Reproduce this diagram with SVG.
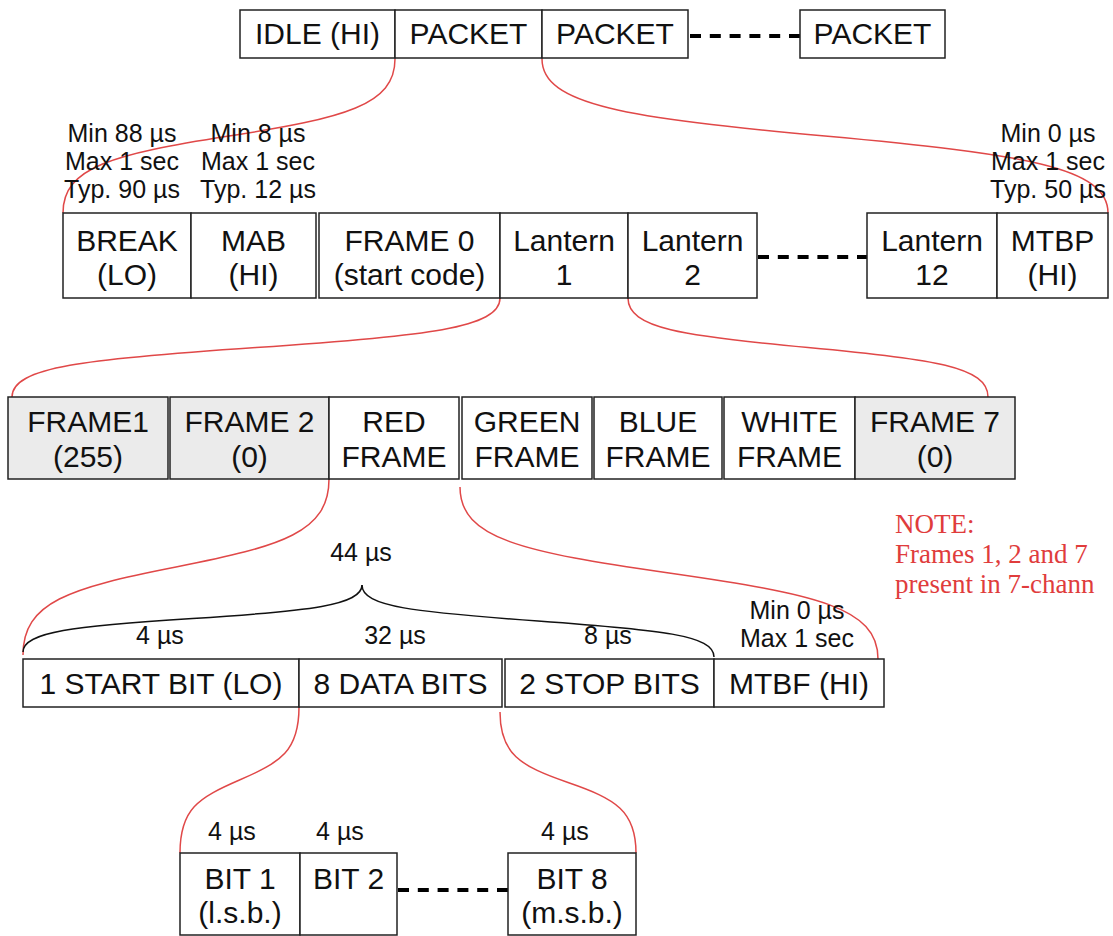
<svg xmlns="http://www.w3.org/2000/svg" width="1113" height="936" viewBox="0 0 1113 936">
<style>
.b{fill:#fff;stroke:#222;stroke-width:1.5}
.g{fill:#ebebeb;stroke:#222;stroke-width:1.5}
.t{font-family:"Liberation Sans",Arial,sans-serif;font-size:30px;fill:#111;text-anchor:middle}
.l{font-family:"Liberation Sans",Arial,sans-serif;font-size:25px;fill:#111;text-anchor:middle}
.n{font-family:"Liberation Serif","Times New Roman",serif;font-size:27px;fill:#e03c3c}
.r{fill:none;stroke:#e04848;stroke-width:1.5}
.k{fill:none;stroke:#111;stroke-width:1.5}
.d{stroke:#000;stroke-width:4;stroke-dasharray:11 8.8}
</style>
<g id="connectors">
<path class="r" d="M395,59 C395,105 345,118 229,136 S63,167 63,213"/>
<path class="r" d="M542,59 C542,105 627,118 825,136 S1108,167 1108,213"/>
<path class="r" d="M500,298 C500,328 427,336 256,347.5 S12,367 12,397"/>
<path class="r" d="M628,298 C628,328 682,336 808,347.5 S988,367 988,397"/>
<path class="r" d="M329,479 C329,532 283,546 176,567 S23,602 23,655"/>
<path class="r" d="M460,487 C460,539 523,552 669,573 S878,607 878,659"/>
<path class="r" d="M299,707 C299,751 281,762 239.5,780 S180,809 180,853"/>
<path class="r" d="M500,712 C500,754 520,766 568,782.5 S636,811 636,853"/>
<path class="k" d="M23,652 C23,632 74,626 192.5,618.5 S362,605 362,585"/>
<path class="k" d="M362,585 C362,607 415,612 538,621 S714,635 714,657"/>
<line class="d" x1="690" y1="36" x2="800" y2="36"/>
<line class="d" x1="758" y1="257" x2="867" y2="257"/>
<line class="d" x1="398" y1="890" x2="508" y2="890"/>
</g>
<g id="row1">
<g id="idle"><rect class="b" x="240" y="10" width="155" height="48"/><text class="t" x="317.5" y="44">IDLE (HI)</text></g>
<g id="packet1"><rect class="b" x="395" y="10" width="147" height="48"/><text class="t" x="468.5" y="44">PACKET</text></g>
<g id="packet2"><rect class="b" x="542" y="10" width="146" height="48"/><text class="t" x="615" y="44">PACKET</text></g>
<g id="packetN"><rect class="b" x="800" y="10" width="145" height="48"/><text class="t" x="872.5" y="44">PACKET</text></g>
</g>
<g id="row2">
<g id="break"><rect class="b" x="63" y="213" width="128" height="85"/><text class="t" x="127" y="251">BREAK</text><text class="t" x="127" y="285">(LO)</text></g>
<g id="mab"><rect class="b" x="191" y="213" width="125" height="85"/><text class="t" x="253.5" y="251">MAB</text><text class="t" x="253.5" y="285">(HI)</text></g>
<g id="frame0"><rect class="b" x="319" y="213" width="181" height="85"/><text class="t" x="409.5" y="251">FRAME 0</text><text class="t" x="409.5" y="285">(start code)</text></g>
<g id="lantern1"><rect class="b" x="500" y="213" width="128" height="85"/><text class="t" x="564" y="251">Lantern</text><text class="t" x="564" y="285">1</text></g>
<g id="lantern2"><rect class="b" x="628" y="213" width="129" height="85"/><text class="t" x="692.5" y="251">Lantern</text><text class="t" x="692.5" y="285">2</text></g>
<g id="lantern12"><rect class="b" x="867" y="213" width="130" height="85"/><text class="t" x="932" y="251">Lantern</text><text class="t" x="932" y="285">12</text></g>
<g id="mtbp"><rect class="b" x="997" y="213" width="111" height="85"/><text class="t" x="1052.5" y="251">MTBP</text><text class="t" x="1052.5" y="285">(HI)</text></g>
<g id="timing2">
<text class="l" x="122" y="142">Min 88 µs</text><text class="l" x="122" y="170">Max 1 sec</text><text class="l" x="122" y="198">Typ. 90 µs</text>
<text class="l" x="258" y="142">Min 8 µs</text><text class="l" x="258" y="170">Max 1 sec</text><text class="l" x="258" y="198">Typ. 12 µs</text>
<text class="l" x="1048" y="142">Min 0 µs</text><text class="l" x="1048" y="170">Max 1 sec</text><text class="l" x="1048" y="198">Typ. 50 µs</text>
</g>
</g>
<g id="row3">
<g id="frame1"><rect class="g" x="8" y="397" width="160" height="82"/><text class="t" x="88" y="432">FRAME1</text><text class="t" x="88" y="467">(255)</text></g>
<g id="frame2"><rect class="g" x="170" y="397" width="159" height="82"/><text class="t" x="249.5" y="432">FRAME 2</text><text class="t" x="249.5" y="467">(0)</text></g>
<g id="red"><rect class="b" x="329" y="397" width="130" height="82"/><text class="t" x="394" y="432">RED</text><text class="t" x="394" y="467">FRAME</text></g>
<g id="green"><rect class="b" x="462" y="397" width="130" height="82"/><text class="t" x="527" y="432">GREEN</text><text class="t" x="527" y="467">FRAME</text></g>
<g id="blue"><rect class="b" x="594" y="397" width="128" height="82"/><text class="t" x="658" y="432">BLUE</text><text class="t" x="658" y="467">FRAME</text></g>
<g id="white"><rect class="b" x="724" y="397" width="131" height="82"/><text class="t" x="789.5" y="432">WHITE</text><text class="t" x="789.5" y="467">FRAME</text></g>
<g id="frame7"><rect class="g" x="855" y="397" width="160" height="82"/><text class="t" x="935" y="432">FRAME 7</text><text class="t" x="935" y="467">(0)</text></g>
</g>
<g id="note">
<text class="n" x="895" y="533">NOTE:</text>
<text class="n" x="895" y="563">Frames 1, 2 and 7</text>
<text class="n" x="895" y="593">present in 7-chann</text>
</g>
<g id="row4">
<g id="start"><rect class="b" x="23" y="659" width="276" height="48"/><text class="t" x="161" y="694">1 START BIT (LO)</text></g>
<g id="data"><rect class="b" x="299" y="659" width="203" height="48"/><text class="t" x="400.5" y="694">8 DATA BITS</text></g>
<g id="stop"><rect class="b" x="505" y="659" width="209" height="48"/><text class="t" x="609.5" y="694">2 STOP BITS</text></g>
<g id="mtbf"><rect class="b" x="714" y="659" width="170" height="48"/><text class="t" x="799" y="694">MTBF (HI)</text></g>
<g id="timing4">
<text class="l" x="361" y="561">44 µs</text>
<text class="l" x="160" y="644">4 µs</text>
<text class="l" x="395" y="644">32 µs</text>
<text class="l" x="608" y="644">8 µs</text>
<text class="l" x="797" y="619">Min 0 µs</text>
<text class="l" x="797" y="647">Max 1 sec</text>
</g>
</g>
<g id="row5">
<g id="bit1"><rect class="b" x="180" y="853" width="120" height="82"/><text class="t" x="240" y="889">BIT 1</text><text class="t" x="240" y="923">(l.s.b.)</text></g>
<g id="bit2"><rect class="b" x="300" y="853" width="97" height="82"/><text class="t" x="348.5" y="889">BIT 2</text></g>
<g id="bit8"><rect class="b" x="508" y="853" width="128" height="82"/><text class="t" x="572" y="889">BIT 8</text><text class="t" x="572" y="923">(m.s.b.)</text></g>
<g id="timing5">
<text class="l" x="232" y="840">4 µs</text>
<text class="l" x="340" y="840">4 µs</text>
<text class="l" x="565" y="840">4 µs</text>
</g>
</g>
</svg>
